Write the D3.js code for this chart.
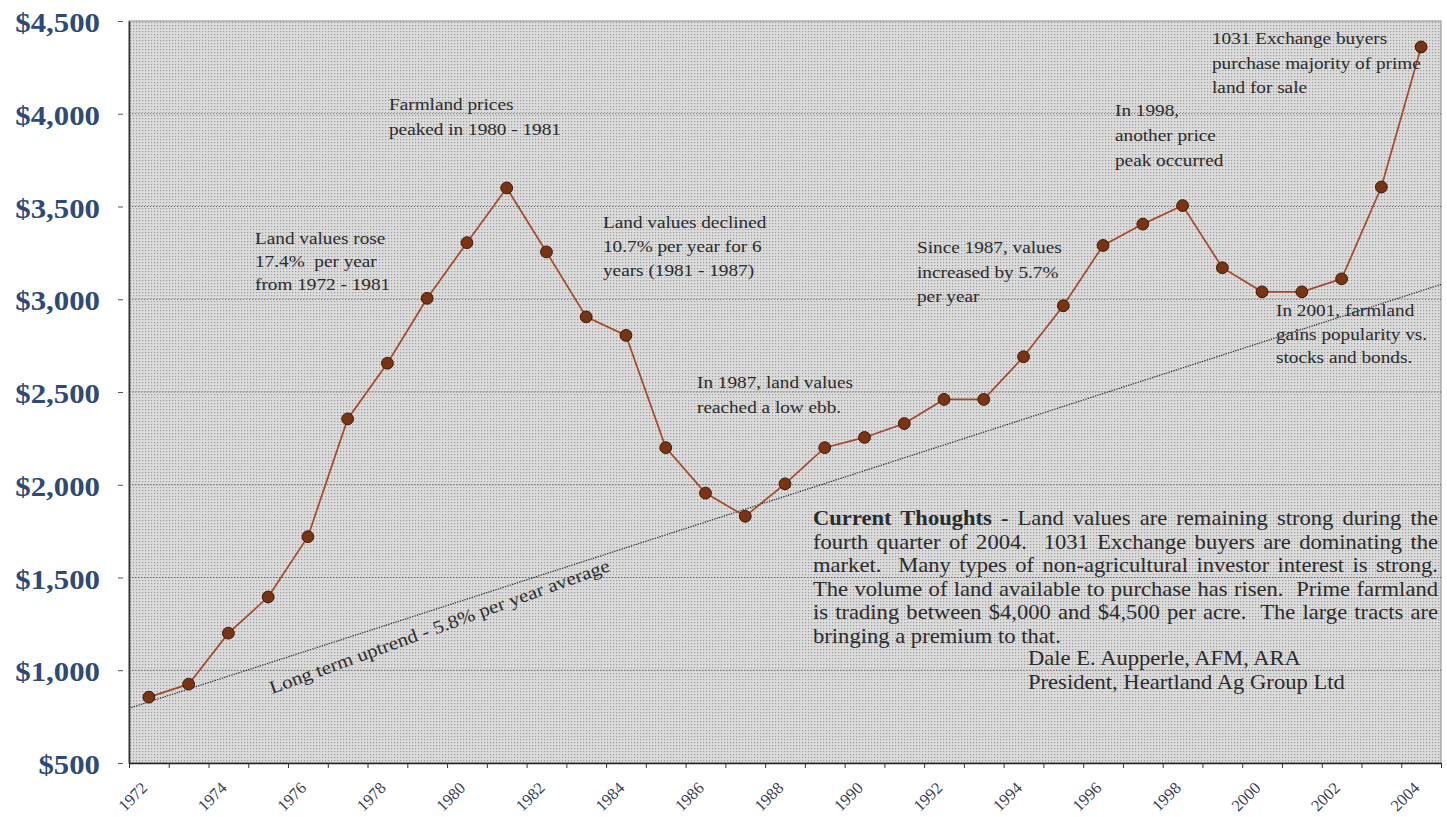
<!DOCTYPE html>
<html><head><meta charset="utf-8">
<script src="https://cdn.jsdelivr.net/npm/d3@7"></script>
<style>
body{margin:0;background:#fff;}
svg{display:block;font-family:"Liberation Serif","Times New Roman",serif;}
text{white-space:pre;}
</style></head><body>
<svg id="chart" width="1447" height="817"></svg>
<script>
// ---------- DATA ----------
const years = [1972,1973,1974,1975,1976,1977,1978,1979,1980,1981,1982,1983,1984,1985,1986,1987,1988,
  1989,1990,1991,1992,1993,1994,1995,1996,1997,1998,1999,2000,2001,2002,2003,2004];
const values = [855,925,1200,1395,1720,2355,2655,3005,3305,3600,3255,2905,2805,2200,1955,1830,2005,
  2200,2255,2330,2460,2460,2690,2965,3290,3405,3505,3170,3040,3040,3110,3605,4360];
const yTickValues = [500,1000,1500,2000,2500,3000,3500,4000,4500];
const xLabelYears = [1972,1974,1976,1978,1980,1982,1984,1986,1988,1990,1992,1994,1996,1998,2000,2002,2004];
const trendValues = [795, 3080];           // long-term trend at left and right edge of the category axis
const trendLabel = "Long term uptrend - 5.8% per year average";

const notes = [
  ["Land values rose", "17.4%  per year", "from 1972 - 1981"],
  ["Farmland prices", "peaked in 1980 - 1981"],
  ["Land values declined", "10.7% per year for 6", "years (1981 - 1987)"],
  ["In 1987, land values", "reached a low ebb."],
  ["Since 1987, values", "increased by 5.7%", "per year"],
  ["In 1998,", "another price", "peak occurred"],
  ["1031 Exchange buyers", "purchase majority of prime", "land for sale"],
  ["In 2001, farmland", "gains popularity vs.", "stocks and bonds."]
];
const commentBold = "Current Thoughts - ";
const commentLines = [
  "Land values are remaining strong during the",
  "fourth quarter of 2004.  1031 Exchange buyers are dominating the",
  "market.  Many types of non-agricultural investor interest is strong.",
  "The volume of land available to purchase has risen.  Prime farmland",
  "is trading between $4,000 and $4,500 per acre.  The large tracts are",
  "bringing a premium to that."
];
const signature = ["Dale E. Aupperle, AFM, ARA", "President, Heartland Ag Group Ltd"];

// ---------- LAYOUT ----------
const L = 129, R = 1441, T = 21, B = 763;
const FONT = "'Liberation Serif','Times New Roman',serif";
const noteLayout = [
  {x:255, y:244, lh:23},
  {x:389, y:110, lh:24.5},
  {x:603, y:228, lh:24},
  {x:697, y:388, lh:24.5},
  {x:917, y:253, lh:24.5},
  {x:1115, y:116, lh:25},
  {x:1212, y:44, lh:24.5},
  {x:1276, y:316, lh:23.5}
];
const noteFont = 17.5, noteSx = 1.1, textCol = "#2b2b2b";

const svg = d3.select("#chart");
const x = d3.scaleLinear().domain([years[0]-0.5, years[years.length-1]+0.5]).range([L, R]);
const y = d3.scaleLinear().domain([500, 4500]).range([B, T]);

// background pattern
const defs = svg.append("defs");
const pat = defs.append("pattern").attr("id","dots").attr("width",3).attr("height",3)
  .attr("patternUnits","userSpaceOnUse");
pat.append("rect").attr("width",3).attr("height",3).attr("fill","#dcdcdc");
pat.append("rect").attr("x",1).attr("y",1).attr("width",1.2).attr("height",1.2).attr("fill","#9c9c9c");

svg.append("rect").attr("x",L).attr("y",T).attr("width",R-L).attr("height",B-T)
  .attr("fill","url(#dots)").attr("stroke","#8c8c8c").attr("stroke-width",1);

// gridlines
svg.append("g").selectAll("line").data(yTickValues.filter(v => v>500 && v<4500)).join("line")
  .attr("x1",L).attr("x2",R).attr("y1",d=>y(d)).attr("y2",d=>y(d))
  .attr("stroke","#5e5e5e").attr("stroke-width",1).attr("stroke-dasharray","1,2");

// trend line
const xd = x.domain();
svg.append("line")
  .attr("x1",x(xd[0])).attr("y1",y(trendValues[0]))
  .attr("x2",x(xd[1])).attr("y2",y(trendValues[1]))
  .attr("stroke","#1e1e1e").attr("stroke-width",1.1).attr("stroke-dasharray","1.3,1.2");

// trend label
svg.append("text")
  .attr("transform",`translate(272,694) rotate(-20) scale(1.13,1)`)
  .attr("font-family",FONT).attr("font-size",18.5).attr("fill",textCol).text(trendLabel);

// y axis
const yAxis = svg.append("g").attr("transform",`translate(${L},0)`)
  .call(d3.axisLeft(y).tickValues(yTickValues).tickFormat(d3.format("$,")).tickSizeOuter(0));
yAxis.select(".domain").attr("stroke","#333").attr("stroke-width",1.6);
yAxis.selectAll(".tick line").attr("x1",-6).attr("x2",-11).attr("stroke","#555");
yAxis.selectAll(".tick text")
  .attr("x",0).attr("dy",null)
  .attr("transform","translate(-29,10.5) scale(1.1,1)")
  .attr("text-anchor","end")
  .attr("font-family",FONT)
  .attr("font-size",28).attr("font-weight","bold").attr("fill","#2d4a78");

// x axis: ticks at category boundaries
const bounds = years.map(v => v - 0.5).concat([years[years.length-1]+0.5]);
const xAxis = svg.append("g").attr("transform",`translate(0,${B})`)
  .call(d3.axisBottom(x).tickValues(bounds).tickFormat("").tickSize(5).tickSizeOuter(0));
xAxis.select(".domain").attr("stroke","#222").attr("stroke-width",1.6);
xAxis.selectAll(".tick line").attr("stroke","#333");

const xLab = svg.append("g").attr("transform",`translate(0,${B})`)
  .call(d3.axisBottom(x).tickValues(xLabelYears).tickFormat(d3.format("d")).tickSize(0));
xLab.select(".domain").remove();
xLab.selectAll(".tick text")
  .attr("y",0).attr("dy",null)
  .attr("transform","translate(-1,26) rotate(-45)")
  .attr("text-anchor","end")
  .attr("font-family",FONT)
  .attr("font-size",16.5).attr("fill","#363c55");

// series line
const pts = years.map((yr,i)=>({yr, v:values[i]}));
svg.append("path").datum(pts)
  .attr("d", d3.line().x(d=>x(d.yr)).y(d=>y(d.v)))
  .attr("fill","none").attr("stroke","#a4492b").attr("stroke-width",1.7);
svg.append("g").selectAll("circle").data(pts).join("circle")
  .attr("cx",d=>x(d.yr)).attr("cy",d=>y(d.v)).attr("r",5.9)
  .attr("fill","#7a3414").attr("stroke","#3a1808").attr("stroke-width",1);

// annotations
notes.forEach((lines,i)=>{
  const lay = noteLayout[i];
  lines.forEach((s,j)=>{
    svg.append("text")
      .attr("transform",`translate(${lay.x},${lay.y + j*lay.lh}) scale(${noteSx},1)`)
      .attr("font-family",FONT)
      .attr("font-size",noteFont).attr("fill",textCol).text(s);
  });
});

// comment paragraph (justified)
const cX = 813, cW = 625, cY = 525, cLH = 23.5, cFont = 20, cSx = 1.13;
commentLines.forEach((s,j)=>{
  const t = svg.append("text")
    .attr("transform",`translate(${cX},${cY + j*cLH}) scale(${cSx},1)`)
    .attr("font-family",FONT)
    .attr("font-size",cFont).attr("fill",textCol);
  let full = s;
  if (j===0){
    t.append("tspan").attr("font-weight","bold").text(commentBold);
    full = commentBold + s;
  }
  t.append("tspan").text(s);
  if (j < commentLines.length-1){
    const nat = t.node().getComputedTextLength();
    const spaces = (full.match(/ /g)||[]).length;
    const extra = (cW/cSx - nat)/spaces;
    t.style("word-spacing", extra + "px");
  }
});
signature.forEach((s,j)=>{
  svg.append("text")
    .attr("transform",`translate(1028,${665 + j*24}) scale(${cSx},1)`)
    .attr("font-family",FONT)
    .attr("font-size",cFont).attr("fill",textCol).text(s);
});
</script>
</body></html>
